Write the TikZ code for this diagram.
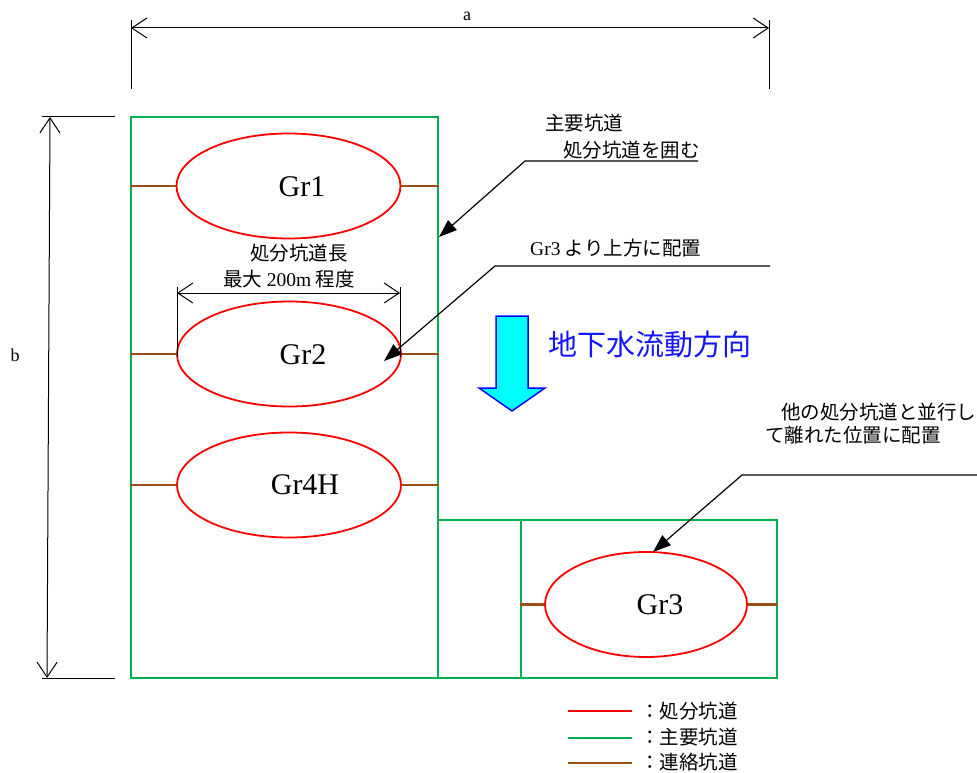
\documentclass[tikz,border=0pt]{standalone}
\usepackage{fontspec}
\setmainfont{Liberation Serif}
\newfontfamily\jp{Noto Sans CJK JP}
\usetikzlibrary{arrows.meta,shapes.geometric}
\definecolor{grn}{RGB}{0,176,80}
\definecolor{brn}{RGB}{153,80,20}
\definecolor{flowblue}{RGB}{20,20,255}
\definecolor{aqua}{RGB}{0,255,255}
\definecolor{pureblue}{RGB}{0,0,255}
\begin{document}
\begin{tikzpicture}[x=1pt,y=-1pt,
  disp/.style={draw=red,line width=1.8pt,ellipse,minimum width=224pt,minimum height=105pt,inner sep=0pt},
  mainbox/.style={draw=grn,line width=2.2pt,rectangle,inner sep=0pt},
  link/.style={draw=brn,line width=2.2pt},
  dim/.style={draw=black,line width=1pt,{Straight Barb[length=15pt,width=20pt]}-{Straight Barb[length=15pt,width=20pt]}},
  tickline/.style={draw=black,line width=1pt},
  callout/.style={draw=black,line width=1.2pt,-{Triangle[length=18pt,width=13pt]}},
  jtxt/.style={font=\jp\fontsize{19.5}{23}\selectfont,inner sep=0pt},
  grl/.style={font=\fontsize{30}{36}\selectfont,inner sep=0pt},
  dimlbl/.style={font=\fontsize{18}{22}\selectfont,inner sep=0pt},
  legline/.style={line width=2.5pt}]
\useasboundingbox (0,0) rectangle (977,773);

% main tunnels (green boxes)
\node[mainbox,minimum width=307pt,minimum height=561pt] (r1) at (284.5,397.5) {};
\node[mainbox,minimum width=83pt,minimum height=158pt] (r2) at (479.5,599) {};
\node[mainbox,minimum width=256pt,minimum height=158pt] (r3) at (649,599) {};

% disposal tunnels
\node[disp] (g1) at (288.5,186) {};
\node[disp] (g2) at (289,354) {};
\node[disp] (g4) at (289,485) {};
\node[disp,minimum width=202pt] (g3) at (646,604.5) {};
\node[grl] (t1) at (302,187) {Gr1};
\node[grl] (t2) at (303,355) {Gr2};
\node[grl] (t4) at (305,485) {Gr4H};
\node[grl] (t3) at (660,605) {Gr3};

% connecting tunnels
\draw[link] (r1.west |- g1) -- (g1.west);
\draw[link] (g1.east) -- (r1.east |- g1);
\draw[link] (r1.west |- g2) -- (g2.west);
\draw[link] (g2.east) -- (r1.east |- g2);
\draw[link] (r1.west |- g4) -- (g4.west);
\draw[link] (g4.east) -- (r1.east |- g4);
\draw[link] (r3.west |- g3) -- (g3.west);
\draw[link] (g3.east) -- (r3.east |- g3);

% dimension a
\coordinate (aT1) at (131,20); \coordinate (aB1) at (131,89);
\coordinate (aT2) at (769,20); \coordinate (aB2) at (769,89);
\coordinate (aA1) at (131,28); \coordinate (aA2) at (769,28);
\draw[tickline] (aT1) -- (aB1);
\draw[tickline] (aT2) -- (aB2);
\draw[dim] (aA1) -- (aA2);
\node[dimlbl] (la) at (467,16) {a};

% dimension b
\coordinate (bL1) at (42,117); \coordinate (bR1) at (115,117);
\coordinate (bL2) at (42,678); \coordinate (bR2) at (115,678);
\coordinate (bA1) at (50,117); \coordinate (bA2) at (47,678);
\draw[tickline] (bL1) -- (bR1);
\draw[tickline] (bL2) -- (bR2);
\draw[dim] (bA1) -- (bA2);
\node[dimlbl] (lb) at (15,355) {b};

% length dimension
\coordinate (lT1) at (177,287); \coordinate (lB1) at (177,357);
\coordinate (lT2) at (400,287); \coordinate (lB2) at (400,357);
\coordinate (lA1) at (177,293); \coordinate (lA2) at (400,293);
\draw[tickline] (lT1) -- (lB1);
\draw[tickline] (lT2) -- (lB2);
\draw[dim] (lA1) -- (lA2);
\node[jtxt] (dl1) at (299,253) {処分坑道長};
\node[jtxt] (dl2) at (289,279) {最大 {\rmfamily 200m} 程度};

% callout 1
\node[jtxt,anchor=west] (c1a) at (545,123) {主要坑道};
\node[jtxt,anchor=west] (c1b) at (563,150) {処分坑道を囲む};
\coordinate (c1e) at (698,161); \coordinate (c1k) at (525,161); \coordinate (c1t) at (439,237);
\draw[callout] (c1e) -- (c1k) -- (c1t);

% callout 2
\node[jtxt,anchor=west] (c2a) at (530,248) {{\rmfamily Gr3} より上方に配置};
\coordinate (c2e) at (770,266); \coordinate (c2k) at (495,266); \coordinate (c2t) at (384,361);
\draw[callout] (c2e) -- (c2k) -- (c2t);

% callout 3
\node[jtxt,anchor=west] (c3a) at (781,412) {他の処分坑道と並行し};
\node[jtxt,anchor=west] (c3b) at (765,435) {て離れた位置に配置};
\coordinate (c3e) at (977,475); \coordinate (c3k) at (742,475); \coordinate (c3t) at (653,552);
\draw[callout] (c3e) -- (c3k) -- (c3t);

% groundwater flow arrow
\draw[draw=pureblue,fill=aqua,line width=1.5pt,line join=miter]
  (496,316) -- (528,316) -- (528,388) -- (545,388) -- (512,411) -- (479,388) -- (496,388) -- cycle;
\node[font=\jp\fontsize{29}{34}\selectfont,text=flowblue,inner sep=0pt,anchor=west] (gw) at (548,345) {地下水流動方向};

% legend
\coordinate (k1a) at (568,711); \coordinate (k1b) at (632,711);
\coordinate (k2a) at (568,738); \coordinate (k2b) at (632,738);
\coordinate (k3a) at (568,763); \coordinate (k3b) at (632,763);
\draw[legline,red] (k1a) -- (k1b);
\draw[legline,grn] (k2a) -- (k2b);
\draw[legline,brn] (k3a) -- (k3b);
\node[jtxt,anchor=west] (k1t) at (640,711) {：処分坑道};
\node[jtxt,anchor=west] (k2t) at (640,737) {：主要坑道};
\node[jtxt,anchor=west] (k3t) at (640,762) {：連絡坑道};
\end{tikzpicture}
\end{document}
